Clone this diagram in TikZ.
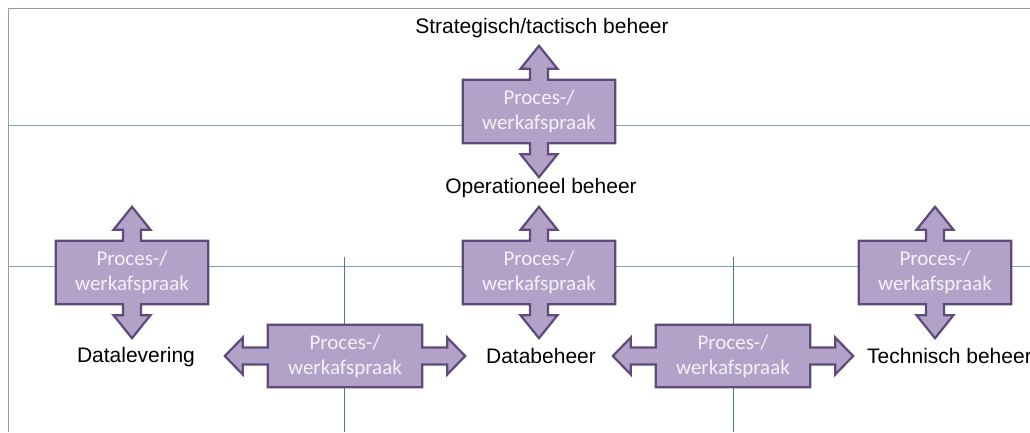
\documentclass[tikz,border=0pt]{standalone}
\usepackage{fontspec}
\setmainfont{Liberation Sans}
\newfontfamily\boxfont{Carlito}
\usetikzlibrary{backgrounds}
\definecolor{pfill}{HTML}{B3A2C8}
\definecolor{pline}{HTML}{5F4A7C}
\definecolor{ptext}{HTML}{F4F0F8}
\definecolor{frameline}{HTML}{8C9DA8}
\definecolor{hline}{HTML}{7FA0B2}
\definecolor{vline}{HTML}{4E7796}
\tikzset{
  pbox/.style={minimum width=152pt, minimum height=63pt, inner sep=0pt, align=center,
    text=ptext, font=\boxfont\fontsize{21}{25}\selectfont},
  hbox/.style={pbox, minimum width=154pt, minimum height=62pt},
  pshape/.style={fill=pfill, draw=pline, line width=2.2pt, line join=miter},
  lbl/.style={inner sep=0pt, font=\fontsize{21}{25}\selectfont, text=black},
  gridline/.style={line width=1pt}
}
\newcommand\vshape[1]{%
  \draw[pshape] (#1.north west) -- ([xshift=-9pt]#1.north) -- ++(0,-11) -- ++(-9.5,0)
    -- ([yshift=34pt]#1.north) -- ++(18.5,23) -- ++(-9.5,0) -- ++(0,11)
    -- (#1.north east) -- (#1.south east) -- ([xshift=9pt]#1.south) -- ++(0,11) -- ++(9.5,0)
    -- ([yshift=-34pt]#1.south) -- ++(-18.5,-23) -- ++(9.5,0) -- ++(0,-11)
    -- (#1.south west) -- cycle;}
\newcommand\hshape[1]{%
  \draw[pshape] (#1.north west) -- (#1.north east) -- ([yshift=8.5pt]#1.east) -- ++(25,0) -- ++(0,-10)
    -- ([xshift=43pt]#1.east) -- ++(-18,18.5) -- ++(0,-10) -- ([yshift=-8.5pt]#1.east)
    -- (#1.south east) -- (#1.south west) -- ([yshift=-8.5pt]#1.west) -- ++(-25,0) -- ++(0,10)
    -- ([xshift=-43pt]#1.west) -- ++(18,-18.5) -- ++(0,10) -- ([yshift=8.5pt]#1.west) -- cycle;}
\begin{document}
\begin{tikzpicture}[x=1pt,y=-1pt]
\useasboundingbox (0,0) rectangle (1030,432);
% labels
\node[lbl] (strat) at (542,28) {Strategisch/tactisch beheer};
\node[lbl] (oper) at (541,188) {Operationeel beheer};
\node[lbl] (datal) at (136,357) {Datalevering};
\node[lbl] (datab) at (541,356) {Databeheer};
\node[lbl, anchor=west] (tech) at (867,356) {Technisch beheer};
% boxes
\node[pbox] (pTop) at (539,111.5) {Proces-/\\werkafspraak};
\node[pbox] (pL) at (132,272.5) {Proces-/\\werkafspraak};
\node[pbox] (pM) at (539,272.5) {Proces-/\\werkafspraak};
\node[pbox] (pR) at (935,272.5) {Proces-/\\werkafspraak};
\node[hbox] (pBL) at (345,356) {Proces-/\\werkafspraak};
\node[hbox] (pBR) at (733,356) {Proces-/\\werkafspraak};
\begin{scope}[on background layer]
  \fill[white] (0,0) rectangle (1030,432);
  \coordinate (tl) at (8,8);
  \coordinate (tr) at (1030,8);
  \coordinate (bl) at (8,432);
  \draw[gridline, frameline] (bl) -- (tl) -- (tr);
  \coordinate (h1a) at (8,125);  \coordinate (h1b) at (1030,125);
  \coordinate (h2a) at (8,266);  \coordinate (h2b) at (1030,266);
  \draw[gridline, hline] (h1a) -- (h1b);
  \draw[gridline, hline] (h2a) -- (h2b);
  \coordinate (v1a) at (344,257); \coordinate (v1b) at (344,432);
  \coordinate (v2a) at (733,257); \coordinate (v2b) at (733,432);
  \draw[gridline, vline] (v1a) -- (v1b);
  \draw[gridline, vline] (v2a) -- (v2b);
  \vshape{pTop}
  \vshape{pL}
  \vshape{pM}
  \vshape{pR}
  \hshape{pBL}
  \hshape{pBR}
\end{scope}
\end{tikzpicture}
\end{document}
